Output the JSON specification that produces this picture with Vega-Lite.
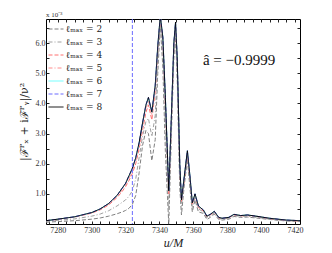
{
  "$schema": "https://vega.github.io/schema/vega-lite/v6.json",
  "width": 254,
  "height": 205,
  "autosize": {"type": "none"},
  "padding": {"left": 46, "top": 19, "right": 32, "bottom": 29},
  "background": "white",
  "config": {
    "view": {"stroke": "black", "strokeWidth": 1},
    "font": "Liberation Serif",
    "axis": {"domain": false, "grid": false, "tickColor": "#222", "tickSize": -3, "labelFont": "Liberation Serif", "labelFontSize": 8, "labelColor": "#333", "titleFont": "DejaVu Serif", "titleFontWeight": "normal", "titleColor": "#222"}
  },
  "title": {"text": "x 10⁻³", "anchor": "start", "frame": "group", "fontSize": 7, "font": "Liberation Serif", "fontWeight": "normal", "color": "#333", "offset": 1},
  "resolve": {"axis": {"x": "independent", "y": "independent"}},
  "layer": [
    {
      "data": {"values": [
        {"u": 7273, "l2": 0.06, "l3": 0.09, "l4": 0.11, "l5": 0.11, "l6": 0.11, "l7": 0.11, "l8": 0.11},
        {"u": 7280, "l2": 0.08, "l3": 0.12, "l4": 0.15, "l5": 0.16, "l6": 0.16, "l7": 0.16, "l8": 0.16},
        {"u": 7290, "l2": 0.11, "l3": 0.17, "l4": 0.23, "l5": 0.24, "l6": 0.24, "l7": 0.24, "l8": 0.24},
        {"u": 7300, "l2": 0.16, "l3": 0.26, "l4": 0.36, "l5": 0.37, "l6": 0.38, "l7": 0.38, "l8": 0.38},
        {"u": 7305, "l2": 0.20, "l3": 0.33, "l4": 0.47, "l5": 0.49, "l6": 0.50, "l7": 0.50, "l8": 0.50},
        {"u": 7310, "l2": 0.26, "l3": 0.44, "l4": 0.63, "l5": 0.66, "l6": 0.68, "l7": 0.68, "l8": 0.68},
        {"u": 7315, "l2": 0.34, "l3": 0.60, "l4": 0.88, "l5": 0.92, "l6": 0.95, "l7": 0.95, "l8": 0.95},
        {"u": 7318, "l2": 0.40, "l3": 0.72, "l4": 1.08, "l5": 1.14, "l6": 1.18, "l7": 1.19, "l8": 1.19},
        {"u": 7320, "l2": 0.45, "l3": 0.80, "l4": 1.24, "l5": 1.30, "l6": 1.34, "l7": 1.35, "l8": 1.35},
        {"u": 7322, "l2": 0.52, "l3": 0.92, "l4": 1.44, "l5": 1.52, "l6": 1.58, "l7": 1.60, "l8": 1.60},
        {"u": 7324, "l2": 0.65, "l3": 1.10, "l4": 1.68, "l5": 1.77, "l6": 1.83, "l7": 1.85, "l8": 1.85},
        {"u": 7326, "l2": 0.95, "l3": 1.50, "l4": 2.00, "l5": 2.10, "l6": 2.18, "l7": 2.20, "l8": 2.20},
        {"u": 7328, "l2": 1.70, "l3": 2.20, "l4": 2.50, "l5": 2.62, "l6": 2.68, "l7": 2.70, "l8": 2.70},
        {"u": 7330, "l2": 2.60, "l3": 2.90, "l4": 3.10, "l5": 3.25, "l6": 3.32, "l7": 3.35, "l8": 3.35},
        {"u": 7332, "l2": 3.10, "l3": 3.40, "l4": 3.70, "l5": 3.85, "l6": 3.92, "l7": 3.95, "l8": 3.95},
        {"u": 7333.5, "l2": 3.00, "l3": 3.50, "l4": 3.95, "l5": 4.10, "l6": 4.18, "l7": 4.20, "l8": 4.20},
        {"u": 7335.5, "l2": 2.10, "l3": 2.90, "l4": 3.45, "l5": 3.60, "l6": 3.70, "l7": 3.72, "l8": 3.72},
        {"u": 7337.5, "l2": 2.80, "l3": 3.60, "l4": 4.40, "l5": 4.52, "l6": 4.58, "l7": 4.60, "l8": 4.60},
        {"u": 7339, "l2": 5.00, "l3": 5.40, "l4": 5.80, "l5": 5.85, "l6": 5.90, "l7": 5.90, "l8": 5.90},
        {"u": 7340.5, "l2": 6.60, "l3": 6.70, "l4": 6.85, "l5": 6.90, "l6": 6.90, "l7": 6.90, "l8": 6.90},
        {"u": 7342, "l2": 5.20, "l3": 5.70, "l4": 6.10, "l5": 6.15, "l6": 6.20, "l7": 6.20, "l8": 6.20},
        {"u": 7343.5, "l2": 2.40, "l3": 3.20, "l4": 4.00, "l5": 4.10, "l6": 4.20, "l7": 4.20, "l8": 4.20},
        {"u": 7345.5, "l2": 0.00, "l3": 0.50, "l4": 1.00, "l5": 1.05, "l6": 1.10, "l7": 1.10, "l8": 1.10},
        {"u": 7347, "l2": 2.90, "l3": 3.20, "l4": 3.40, "l5": 3.45, "l6": 3.50, "l7": 3.50, "l8": 3.50},
        {"u": 7348.5, "l2": 5.50, "l3": 5.70, "l4": 5.90, "l5": 5.95, "l6": 6.00, "l7": 6.00, "l8": 6.00},
        {"u": 7349.5, "l2": 6.20, "l3": 6.40, "l4": 6.60, "l5": 6.65, "l6": 6.70, "l7": 6.70, "l8": 6.70},
        {"u": 7350.5, "l2": 4.80, "l3": 5.10, "l4": 5.40, "l5": 5.45, "l6": 5.50, "l7": 5.50, "l8": 5.50},
        {"u": 7352, "l2": 1.20, "l3": 1.60, "l4": 1.90, "l5": 1.95, "l6": 2.00, "l7": 2.00, "l8": 2.00},
        {"u": 7353, "l2": 0.30, "l3": 0.60, "l4": 0.75, "l5": 0.78, "l6": 0.80, "l7": 0.80, "l8": 0.80},
        {"u": 7354.5, "l2": 1.20, "l3": 1.30, "l4": 1.40, "l5": 1.45, "l6": 1.50, "l7": 1.50, "l8": 1.50},
        {"u": 7356.5, "l2": 2.15, "l3": 2.30, "l4": 2.35, "l5": 2.40, "l6": 2.43, "l7": 2.43, "l8": 2.43},
        {"u": 7358, "l2": 1.20, "l3": 1.40, "l4": 1.50, "l5": 1.55, "l6": 1.60, "l7": 1.60, "l8": 1.60},
        {"u": 7359.4, "l2": 0.40, "l3": 0.55, "l4": 0.65, "l5": 0.68, "l6": 0.70, "l7": 0.70, "l8": 0.70},
        {"u": 7361, "l2": 0.80, "l3": 0.90, "l4": 0.95, "l5": 0.98, "l6": 1.00, "l7": 1.00, "l8": 1.00},
        {"u": 7363, "l2": 0.40, "l3": 0.50, "l4": 0.55, "l5": 0.58, "l6": 0.60, "l7": 0.60, "l8": 0.60},
        {"u": 7366, "l2": 0.35, "l3": 0.40, "l4": 0.43, "l5": 0.45, "l6": 0.46, "l7": 0.46, "l8": 0.46},
        {"u": 7368, "l2": 0.15, "l3": 0.20, "l4": 0.24, "l5": 0.25, "l6": 0.26, "l7": 0.26, "l8": 0.26},
        {"u": 7370, "l2": 0.22, "l3": 0.27, "l4": 0.30, "l5": 0.31, "l6": 0.32, "l7": 0.32, "l8": 0.32},
        {"u": 7372.4, "l2": 0.33, "l3": 0.37, "l4": 0.40, "l5": 0.41, "l6": 0.42, "l7": 0.42, "l8": 0.42},
        {"u": 7375, "l2": 0.15, "l3": 0.18, "l4": 0.20, "l5": 0.21, "l6": 0.22, "l7": 0.22, "l8": 0.22},
        {"u": 7377, "l2": 0.13, "l3": 0.16, "l4": 0.18, "l5": 0.19, "l6": 0.19, "l7": 0.19, "l8": 0.19},
        {"u": 7381, "l2": 0.16, "l3": 0.19, "l4": 0.21, "l5": 0.22, "l6": 0.22, "l7": 0.22, "l8": 0.22},
        {"u": 7384, "l2": 0.25, "l3": 0.28, "l4": 0.30, "l5": 0.31, "l6": 0.32, "l7": 0.32, "l8": 0.32},
        {"u": 7388, "l2": 0.22, "l3": 0.25, "l4": 0.27, "l5": 0.28, "l6": 0.28, "l7": 0.28, "l8": 0.28},
        {"u": 7392, "l2": 0.23, "l3": 0.26, "l4": 0.28, "l5": 0.29, "l6": 0.30, "l7": 0.30, "l8": 0.30},
        {"u": 7397, "l2": 0.20, "l3": 0.22, "l4": 0.25, "l5": 0.26, "l6": 0.26, "l7": 0.26, "l8": 0.26},
        {"u": 7405, "l2": 0.15, "l3": 0.16, "l4": 0.18, "l5": 0.19, "l6": 0.19, "l7": 0.19, "l8": 0.19},
        {"u": 7415, "l2": 0.10, "l3": 0.11, "l4": 0.12, "l5": 0.13, "l6": 0.13, "l7": 0.13, "l8": 0.13},
        {"u": 7423, "l2": 0.08, "l3": 0.09, "l4": 0.10, "l5": 0.11, "l6": 0.11, "l7": 0.11, "l8": 0.11}
      ]},
      "transform": [{"fold": ["l2", "l3", "l4", "l5", "l6", "l7", "l8"], "as": ["series", "value"]}],
      "mark": {"type": "line", "clip": true},
      "encoding": {
        "x": {"field": "u", "type": "quantitative", "scale": {"domain": [7273, 7423], "nice": false, "zero": false},
              "axis": {"orient": "bottom", "title": "u/M", "titleFontStyle": "italic", "titleFontSize": 12, "titleFont": "Liberation Serif", "titlePadding": 3,
                       "values": [7275,7280,7285,7290,7295,7300,7305,7310,7315,7320,7325,7330,7335,7340,7345,7350,7355,7360,7365,7370,7375,7380,7385,7390,7395,7400,7405,7410,7415,7420],
                       "labelExpr": "datum.value % 20 == 0 ? datum.label : ''", "format": "d", "labelPadding": 5}},
        "y": {"field": "value", "type": "quantitative", "scale": {"domain": [0, 6.8], "nice": false},
              "axis": {"orient": "left", "title": "|ℱᴾₓ + iℱᴾᵧ|/ν²", "titleFontSize": 11, "titleFont": "DejaVu Serif", "titlePadding": 6,
                       "values": [0.5,1,1.5,2,2.5,3,3.5,4,4.5,5,5.5,6,6.5],
                       "labelExpr": "datum.value % 1 == 0 ? datum.label : ''", "labelPadding": 4}},
        "color": {"field": "series", "type": "nominal",
                  "scale": {"domain": ["l2","l3","l4","l5","l6","l7","l8"], "range": ["#808080","#a0a0a0","#ff7070","#ff8c8c","#66ffff","#6b6bff","#000000"]},
                  "legend": {"title": null, "orient": "top-left", "offset": 2, "padding": 0, "symbolType": "stroke", "symbolSize": 225, "rowPadding": -6, "labelFont": "DejaVu Serif", "labelFontSize": 9, "labelColor": "#222", "labelOffset": 2,
                             "labelExpr": "'ℓₘₐₓ = ' + substring(datum.label, 1)"}},
        "strokeDash": {"field": "series", "type": "nominal",
                  "scale": {"domain": ["l2","l3","l4","l5","l6","l7","l8"], "range": [[4,2],[4,2,1,2],[4,2],[4,2,1,2],[1,0],[4,2],[1,0]]},
                  "legend": {"title": null, "orient": "top-left", "offset": 2, "padding": 0, "symbolType": "stroke", "symbolSize": 225, "rowPadding": -6, "labelFont": "DejaVu Serif", "labelFontSize": 9, "labelColor": "#222", "labelOffset": 2,
                             "labelExpr": "'ℓₘₐₓ = ' + substring(datum.label, 1)"}},
        "strokeWidth": {"field": "series", "type": "nominal",
                  "scale": {"domain": ["l2","l3","l4","l5","l6","l7","l8"], "range": [1,1,1,1,1,1,1.8]},
                  "legend": {"title": null, "orient": "top-left", "offset": 2, "padding": 0, "symbolType": "stroke", "symbolSize": 225, "rowPadding": -6, "labelFont": "DejaVu Serif", "labelFontSize": 9, "labelColor": "#222", "labelOffset": 2,
                             "labelExpr": "'ℓₘₐₓ = ' + substring(datum.label, 1)"}}
      }
    },
    {
      "data": {"values": [{"u": 7324}]},
      "mark": {"type": "rule", "color": "#6b6bff", "strokeDash": [4, 2], "strokeWidth": 1},
      "encoding": {
        "x": {"field": "u", "type": "quantitative", "axis": {"orient": "top", "title": null, "labels": false,
              "values": [7275,7280,7285,7290,7295,7300,7305,7310,7315,7320,7325,7330,7335,7340,7345,7350,7355,7360,7365,7370,7375,7380,7385,7390,7395,7400,7405,7410,7415,7420]}}
      }
    },
    {
      "data": {"values": [{"u": 7387, "v": 5.43, "label": "â = −0.9999"}]},
      "mark": {"type": "text", "font": "Liberation Serif", "fontSize": 15, "align": "center", "baseline": "middle", "color": "#111"},
      "encoding": {
        "x": {"field": "u", "type": "quantitative", "axis": null},
        "y": {"field": "v", "type": "quantitative", "axis": {"orient": "right", "title": null, "labels": false, "values": [0.5,1,1.5,2,2.5,3,3.5,4,4.5,5,5.5,6,6.5]}},
        "text": {"field": "label"}
      }
    }
  ]
}
